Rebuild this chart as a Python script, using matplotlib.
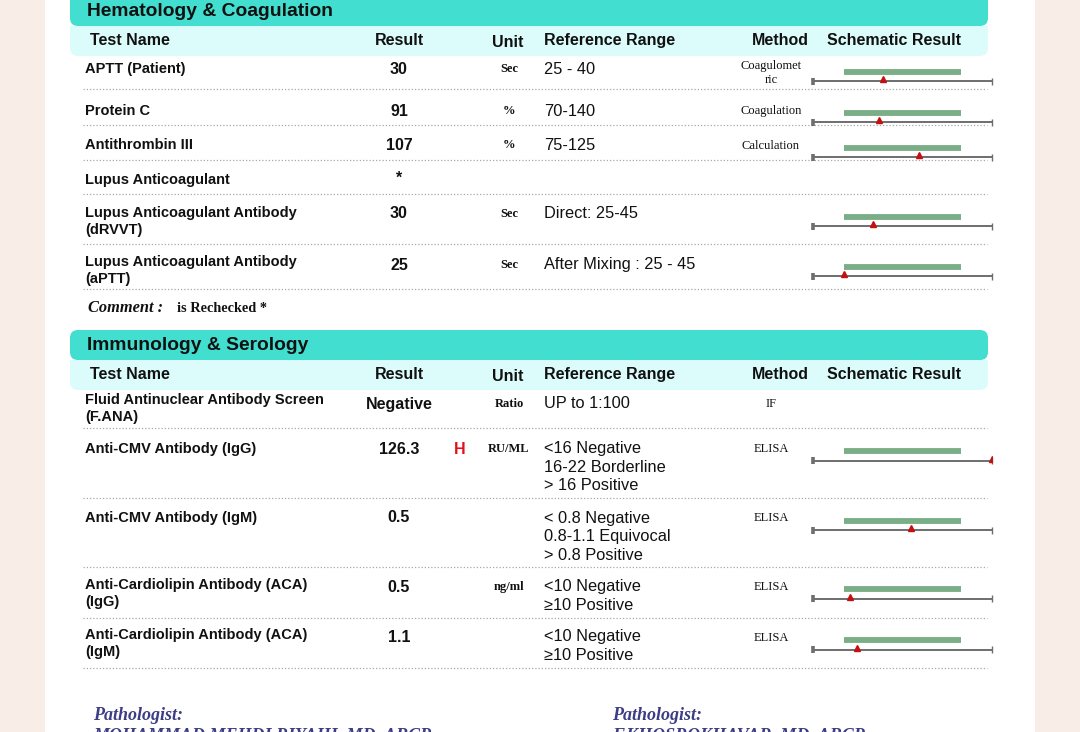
import matplotlib
matplotlib.use("Agg")
import matplotlib.pyplot as plt
from matplotlib.patches import FancyBboxPatch, Rectangle
import numpy as np

# ---------------- data ----------------
hem_names = ["APTT (Patient)", "Protein C", "Antithrombin III", "Lupus Anticoagulant",
             "Lupus Anticoagulant Antibody\n(dRVVT)", "Lupus Anticoagulant Antibody\n(aPTT)"]
hem_results = ["30", "91", "107", "*", "30", "25"]
hem_units = ["Sec", "%", "%", "", "Sec", "Sec"]
hem_refs = ["25 - 40", "70-140", "75-125", "", "Direct: 25-45", "After Mixing : 25 - 45"]
hem_methods = ["Coagulomet\nric", "Coagulation", "Calculation", "", "", ""]
hem_low = [25, 70, 75, None, 25, 25]
hem_high = [40, 140, 125, None, 45, 45]
hem_val = [30, 91, 107, None, 30, 25]

imm_names = ["Fluid Antinuclear Antibody Screen\n(F.ANA)", "Anti-CMV Antibody (IgG)",
             "Anti-CMV Antibody (IgM)", "Anti-Cardiolipin Antibody (ACA)\n(IgG)",
             "Anti-Cardiolipin Antibody (ACA)\n(IgM)"]
imm_results = ["Negative", "126.3", "0.5", "0.5", "1.1"]
imm_flags = ["", "H", "", "", ""]
imm_units = ["Ratio", "RU/ML", "", "ng/ml", ""]
imm_refs = ["UP to 1:100", "<16 Negative\n16-22 Borderline\n> 16 Positive",
            "< 0.8 Negative\n0.8-1.1 Equivocal\n> 0.8 Positive",
            "<10 Negative\n\u226510 Positive", "<10 Negative\n\u226510 Positive"]
imm_methods = ["IF", "ELISA", "ELISA", "ELISA", "ELISA"]
imm_low = [None, 0, 0, 0, 0]
imm_high = [None, 16, 0.88, 10, 10]
imm_val = [None, 126.3, 0.5, 0.5, 1.1]

col_headers = ["Test Name", "Result", "Unit", "Reference Range", "Method", "Schematic Result"]
sections = ["Hematology & Coagulation", "Immunology & Serology"]
comment_label = "Comment :"
comment_text = "is Rechecked *"
pathologists = ["MOHAMMAD MEHDI RIYAHI, MD, ABCP", "F.KHOSROKHAVAR, MD, ABCP"]

# ---------------- layout ----------------
W, H = 1080, 732
fig = plt.figure(figsize=(W / 100, H / 100), dpi=100)
fig.patch.set_facecolor("#f8eee7")
ax = fig.add_axes([0, 0, 1, 1])
ax.set_xlim(0, W)
ax.set_ylim(H, 0)
ax.axis("off")

SANS = ["Liberation Sans", "DejaVu Sans"]
SERIF = ["Liberation Serif", "DejaVu Serif"]
TURQ = "#42dfd0"
LIGHT = "#dcfcfc"
GREEN = "#7aae86"
AXG = "#6e6e6e"
RED = "#c41010"

ax.add_patch(Rectangle((45, 0), 990, H, facecolor="white", edgecolor="none", zorder=0))


def section_header(title, top, bottom, sub_bottom, title_y):
    ax.add_patch(FancyBboxPatch((70, top), 918, bottom - top, boxstyle="round,pad=0,rounding_size=8",
                                facecolor=TURQ, edgecolor="none", zorder=1))
    ax.add_patch(FancyBboxPatch((70, bottom), 918, sub_bottom - bottom,
                                boxstyle="round,pad=0,rounding_size=8",
                                facecolor=LIGHT, edgecolor="none", zorder=1))
    ax.add_patch(Rectangle((70, bottom), 918, 10, facecolor=LIGHT, edgecolor="none", zorder=1))
    ax.text(87, title_y, title, family=SANS,
            fontweight="bold", fontsize=13.9, va="center", ha="left", color="#111", zorder=2)
    hy = (bottom + sub_bottom) / 2 - 0.5
    ax.text(90, hy, col_headers[0], family=SANS, fontweight="bold", fontsize=11.5, va="center", ha="left", color="#111", zorder=2)
    ax.text(399, hy, col_headers[1], family=SANS, fontweight="bold", fontsize=11.5, va="center", ha="center", color="#111", zorder=2)
    ax.text(508, hy + 2, col_headers[2], family=SANS, fontweight="bold", fontsize=11.5, va="center", ha="center", color="#111", zorder=2)
    ax.text(544, hy, col_headers[3], family=SANS, fontweight="bold", fontsize=11.5, va="center", ha="left", color="#111", zorder=2)
    ax.text(809, hy, col_headers[4], family=SANS, fontweight="bold", fontsize=11.5, va="center", ha="right", color="#111", zorder=2)
    ax.text(827, hy, col_headers[5], family=SANS, fontweight="bold", fontsize=11.5, va="center", ha="left", color="#111", zorder=2)


def multiline(x, y, s, step, **kw):
    for i, line in enumerate(s.split("\n")):
        ax.text(x, y + i * step, line, va="center", zorder=3, **kw)


def separator(y):
    ax.plot([83, 987], [y, y], color="#a8a8a8", lw=0.9, ls=(0, (1, 1.6)), zorder=2)


def schematic(gy, low, high, val):
    ay = gy + 9.5
    y0, y1 = gy - 6, ay + 6
    sax = fig.add_axes([813 / W, 1 - y1 / H, (992 - 813) / W, (y1 - y0) / H])
    sax.axis("off")
    pad = (high - low) * 31.0 / 118.0
    xmin, xmax = low - pad, high + pad
    sax.set_xlim(xmin, xmax)
    sax.set_ylim(y1, y0)
    sax.patch.set_alpha(0)
    sax.plot([low, high], [gy, gy], color=GREEN, lw=4.2, solid_capstyle="butt")
    sax.plot([xmin, xmax], [ay, ay], color=AXG, lw=1.4, solid_capstyle="butt", clip_on=False)
    sax.plot([xmin, xmin], [ay - 3.5, ay + 3.5], color=AXG, lw=2.6, solid_capstyle="butt", clip_on=False)
    sax.plot([xmax, xmax], [ay - 3.5, ay + 3.5], color=AXG, lw=1.0, solid_capstyle="butt", clip_on=False)
    mv = min(val, xmax)
    sax.plot([mv], [ay - 1.8], marker="^", ms=4.6, color=RED, mec=RED, ls="none", clip_on=True)


# ---------------- Hematology ----------------
section_header(sections[0], -20, 26, 56, 11)
name_y = [69, 111, 145, 180, 213, 262]
res_y = [69, 111, 145, 178, 214, 265]
meth_y = [66, 111, 146, 180, 214, 265]
green_y = [71.7, 112.7, 147.7, None, 216.7, 266.7]
sep_y = [89, 125, 160, 194, 244, 289]
for i in range(len(hem_names)):
    multiline(85, name_y[i], hem_names[i], 17, family=SANS, fontweight="bold", fontsize=10.5, ha="left", color="#111")
    ax.text(399, res_y[i], hem_results[i], family=SANS, fontweight="bold", fontsize=11.5, ha="center", va="center", color="#111", zorder=3)
    if hem_units[i]:
        ax.text(509, res_y[i], hem_units[i], family=SERIF, fontweight="bold", fontsize=9, ha="center", va="center", color="#111", zorder=3)
    if hem_refs[i]:
        ax.text(544, res_y[i], hem_refs[i], family=SANS, fontsize=11.8, ha="left", va="center", color="#111", zorder=3)
    if hem_methods[i]:
        multiline(771, meth_y[i], hem_methods[i], 14, family=SERIF, fontsize=9, ha="center", color="#111")
    if hem_low[i] is not None:
        schematic(green_y[i], hem_low[i], hem_high[i], hem_val[i])
    separator(sep_y[i])

ax.text(88, 308, comment_label, family=SERIF, fontweight="bold", style="italic", fontsize=11.8, ha="left", va="center", color="#111", zorder=3)
ax.text(177, 308, comment_text, family=SERIF, fontweight="bold", fontsize=10.3, ha="left", va="center", color="#111", zorder=3)

# ---------------- Immunology ----------------
section_header(sections[1], 330, 360, 390, 345)
i_name_y = [400, 449, 518, 585, 635]
i_res_y = [404, 449, 518, 587, 638]
i_ref_y = [404, 448, 518, 587, 637]
i_green_y = [None, 451, 520.7, 589, 640]
i_sep_y = [428, 498, 567, 618, 668]
for i in range(len(imm_names)):
    multiline(85, i_name_y[i], imm_names[i], 17, family=SANS, fontweight="bold", fontsize=10.5, ha="left", color="#111")
    ax.text(399, i_res_y[i], imm_results[i], family=SANS, fontweight="bold", fontsize=11.5, ha="center", va="center", color="#111", zorder=3)
    if imm_flags[i]:
        ax.text(460, i_res_y[i], imm_flags[i], family=SANS, fontweight="bold", fontsize=11.5, ha="center", va="center", color="#e0101e", zorder=3)
    if imm_units[i]:
        ax.text(509, i_res_y[i], imm_units[i], family=SERIF, fontweight="bold", fontsize=9, ha="center", va="center", color="#111", zorder=3)
    multiline(544, i_ref_y[i], imm_refs[i], 19, family=SANS, fontsize=11.8, ha="left", color="#111")
    ax.text(771, i_res_y[i], imm_methods[i], family=SERIF, fontsize=9, ha="center", va="center", color="#111", zorder=3)
    if imm_low[i] is not None:
        schematic(i_green_y[i], imm_low[i], imm_high[i], imm_val[i])
    separator(i_sep_y[i])

# ---------------- footer ----------------
PURP = "#3d3d85"
for x, name in zip([93, 612], pathologists):
    ax.text(x, 715, "Pathologist:", family=SERIF, fontweight="bold", style="italic", fontsize=13, ha="left", va="center", color=PURP, zorder=3)
    ax.text(x, 727, name, family=SERIF, fontweight="bold", style="italic", fontsize=13, ha="left", va="top", color=PURP, zorder=3)

fig.savefig("out.png", dpi=100, facecolor=fig.get_facecolor())
